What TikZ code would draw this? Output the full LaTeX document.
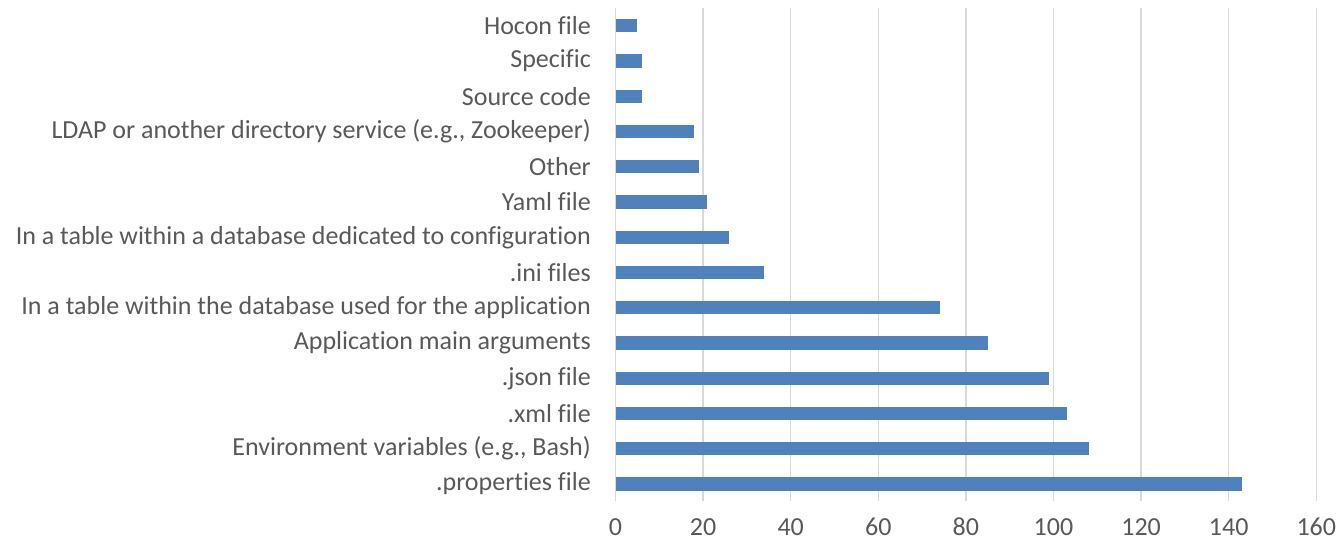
\documentclass[tikz,border=0pt]{standalone}
\usepackage{fontspec}
\setmainfont[Ligatures=NoCommon]{Carlito}
\usetikzlibrary{calc}
\definecolor{barblue}{HTML}{4F81BD}
\definecolor{gridgray}{HTML}{D9D9D9}
\definecolor{txtgray}{HTML}{595959}
\begin{document}
\begin{tikzpicture}[x=1pt,y=-1pt,
    catlab/.style={anchor=east,inner sep=0pt,text=txtgray,font=\fontsize{26}{30}\selectfont},
    ticklab/.style={inner sep=0pt,text=txtgray,font=\fontsize{26}{30}\selectfont},
    gridline/.style={draw=gridgray,line width=1.3pt}]
      \useasboundingbox (0,0) rectangle (1343,542);
      \def\xo{615.5}\def\ux{4.38}

      % grid and ticks
      \foreach \v in {0,20,...,160}{
        \coordinate (gt\v) at ({\xo+\ux*\v},8);
        \coordinate (gb\v) at ({\xo+\ux*\v},501);
        \draw[gridline] (gt\v)--(gb\v);
        \node[ticklab] (t\v) at ({\xo+\ux*\v},527) {\v};
      }

      % bars and categories, top to bottom
      \foreach \i/\val/\lab in {0/5/{Hocon file},1/6/{Specific},2/6/{Source code},
          3/18/{LDAP or another directory service (e.g., Zookeeper)},4/19/{Other},
          5/21/{Yaml file},6/26/{In a table within a database dedicated to configuration},
          7/34/{.ini files},8/74/{In a table within the database used for the application},
          9/85/{Application main arguments},10/99/{.json file},11/103/{.xml file},
          12/108/{Environment variables (e.g., Bash)},13/143/{.properties file}}{
        \fill[barblue] (\xo,{25.7+35.25*\i-6.6}) rectangle ++({\ux*\val},13.3);
        \node[catlab] (c\i) at (591,{25.7+35.25*\i}) {\lab};
      }
    \end{tikzpicture}
\end{document}
